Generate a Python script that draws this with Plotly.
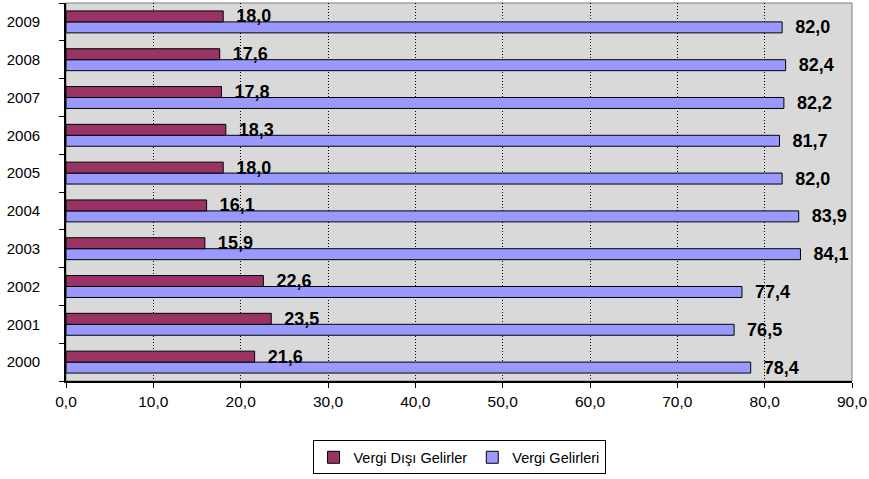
import plotly.graph_objects as go

years = ["2000", "2001", "2002", "2003", "2004", "2005", "2006", "2007", "2008", "2009"]
vergi_disi = [21.6, 23.5, 22.6, 15.9, 16.1, 18.0, 18.3, 17.8, 17.6, 18.0]
vergi = [78.4, 76.5, 77.4, 84.1, 83.9, 82.0, 81.7, 82.2, 82.4, 82.0]
x_ticks = [0, 10, 20, 30, 40, 50, 60, 70, 80, 90]

font_family = "Liberation Sans, Arial, sans-serif"
label_font = dict(family=font_family, size=18, color="black", weight="bold")

fig = go.Figure()

# blue trace first so it lands below the maroon one in each group
fig.add_trace(go.Bar(y=years, x=vergi, orientation="h", name="Vergi Gelirleri",
                     marker=dict(color="#9999FF", line=dict(color="black", width=1)),
                     texttemplate="  %{x:.1f}", textposition="outside",
                     constraintext="none", textfont=label_font,
                     cliponaxis=False, legendrank=2))
fig.add_trace(go.Bar(y=years, x=vergi_disi, orientation="h", name="Vergi Dışı Gelirler",
                     marker=dict(color="#993366", line=dict(color="black", width=1)),
                     texttemplate="  %{x:.1f}", textposition="outside",
                     constraintext="none", textfont=label_font,
                     cliponaxis=False, legendrank=1))

# gray frame on top/right of plot area
fig.add_shape(type="rect", xref="x domain", yref="y domain", x0=0, x1=1, y0=0, y1=1,
              line=dict(color="#808080", width=1), layer="below")

fig.update_layout(
    width=869, height=479,
    margin=dict(l=66, r=17, t=3, b=98),
    paper_bgcolor="white", plot_bgcolor="#D9D9D9",
    barmode="group", bargap=0.42, bargroupgap=0,
    separators=", ",
    font=dict(family=font_family, size=15, color="black"),
    showlegend=True,
    legend=dict(orientation="h", x=0.5, xanchor="center", y=-0.157, yanchor="top",
                bordercolor="black", borderwidth=1, font=dict(size=14.5),
                itemwidth=30, tracegroupgap=0),
)

fig.update_xaxes(range=[0, 90], tickvals=x_ticks, tickformat=".1f",
                 showgrid=True, gridcolor="black", griddash="1px,2px", gridwidth=1,
                 zeroline=False, showline=True, linecolor="black", linewidth=2,
                 ticks="outside", ticklen=5, tickcolor="black",
                 tickfont=dict(size=15.5), ticklabeloverflow="allow")
fig.update_yaxes(type="category", categoryorder="array", categoryarray=years,
                 showgrid=False, showline=True, linecolor="black", linewidth=2,
                 ticks="outside", tickson="boundaries", ticklen=5, tickcolor="black",
                 tickfont=dict(size=15), ticksuffix="     ")

fig.write_html("out.html", config={"displayModeBar": False},
               post_script="document.body.style.margin='0';")
